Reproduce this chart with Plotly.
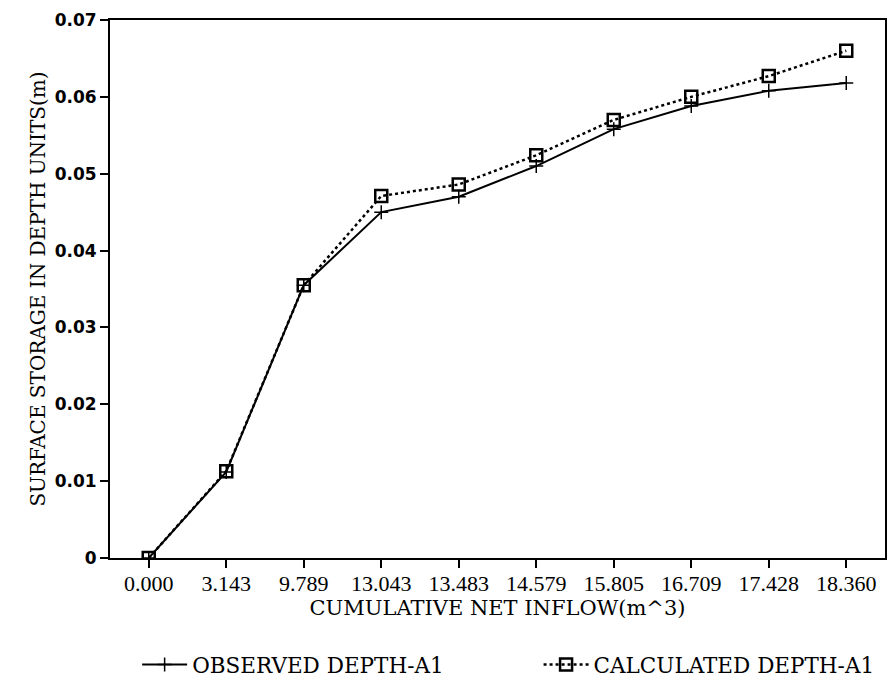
import plotly.graph_objects as go

# Cumulative net inflow categories (m^3)
inflow_labels = ["0.000", "3.143", "9.789", "13.043", "13.483",
                 "14.579", "15.805", "16.709", "17.428", "18.360"]

# Surface storage in depth units (m)
observed_depth = [0.0, 0.0112, 0.0355, 0.0450, 0.0470,
                  0.0510, 0.0558, 0.0588, 0.0608, 0.0618]
calculated_depth = [0.0, 0.0113, 0.0355, 0.0471, 0.0486,
                    0.0524, 0.0570, 0.0600, 0.0627, 0.0660]

y_ticks = [0, 0.01, 0.02, 0.03, 0.04, 0.05, 0.06, 0.07]
y_tick_text = ["0", "0.01", "0.02", "0.03", "0.04", "0.05", "0.06", "0.07"]

serif_wide = "DejaVu Serif, serif"
serif = "Liberation Serif, Times New Roman, serif"
sans_bold = "DejaVu Sans, Arial, sans-serif"

fig = go.Figure()
fig.add_trace(go.Scatter(
    x=inflow_labels, y=observed_depth, name="OBSERVED DEPTH-A1",
    mode="lines+markers", legend="legend",
    line=dict(color="black", width=2),
    marker=dict(symbol="cross-thin-open", size=10,
                line=dict(color="black", width=1.5)),
))
fig.add_trace(go.Scatter(
    x=inflow_labels, y=calculated_depth, name="CALCULATED DEPTH-A1",
    mode="lines+markers", legend="legend2",
    line=dict(color="black", width=2.5, dash="dot"),
    marker=dict(symbol="square-open", size=12, color="black",
                line=dict(color="black", width=2.5)),
))

legend_common = dict(orientation="h", xanchor="left", y=-0.16,
                     yanchor="top", font=dict(family=serif_wide, size=21.5),
                     itemwidth=45, bgcolor="rgba(0,0,0,0)")

fig.update_layout(
    width=891, height=682,
    margin=dict(l=110, r=6, t=20, b=124, autoexpand=False),
    paper_bgcolor="white", plot_bgcolor="white",
    font=dict(family=serif_wide, color="black", size=20),
    legend=dict(x=0.035, **legend_common),
    legend2=dict(x=0.553, **legend_common),
    showlegend=True,
)
fig.update_xaxes(
    type="category", range=[-0.5, 9.5],
    showline=True, linecolor="black", linewidth=2, mirror=True,
    ticks="outside", ticklen=8, tickwidth=1.5, tickcolor="black",
    ticklabelstandoff=-3,
    showgrid=False, zeroline=False,
    tickfont=dict(family=serif, size=22),
    title=dict(text="CUMULATIVE NET INFLOW(m^3)", standoff=0,
               font=dict(family=serif_wide, size=21)),
)
fig.update_yaxes(
    range=[0, 0.07], tickvals=y_ticks, ticktext=y_tick_text,
    showline=True, linecolor="black", linewidth=2, mirror=True,
    ticks="outside", ticklen=8, tickwidth=1.5, tickcolor="black",
    showgrid=False, zeroline=False,
    tickfont=dict(family=sans_bold, size=17, weight="bold"),
    title=dict(text="SURFACE STORAGE IN DEPTH UNITS(m)", standoff=4,
               font=dict(family=serif_wide, size=20)),
)

fig.write_html("out.html")
